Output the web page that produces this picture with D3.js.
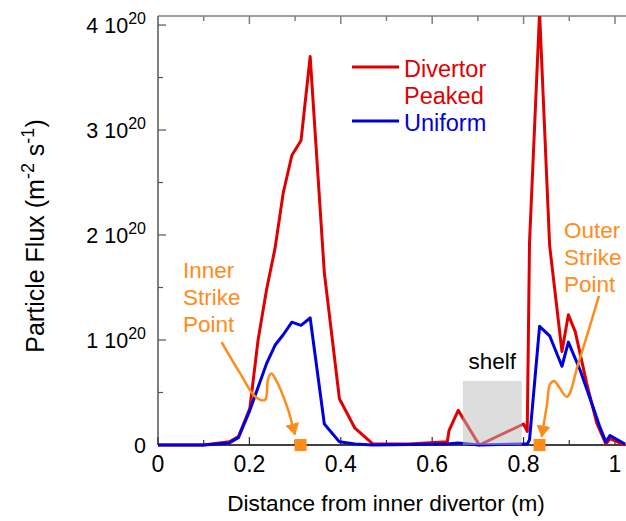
<!DOCTYPE html>
<html>
<head>
<meta charset="utf-8">
<script src="https://cdn.jsdelivr.net/npm/d3@7"></script>
<style>
  html, body { margin: 0; padding: 0; background: #fff; }
  svg { display: block; font-family: "Liberation Sans", Arial, sans-serif; }
</style>
</head>
<body>
<svg id="chart" width="626" height="521"></svg>
<script>
// Particle flux along the divertor surface, two fuelling cases
const peakedX    = [0, 0.1, 0.156, 0.176, 0.201, 0.219, 0.238, 0.256, 0.274, 0.293, 0.313, 0.333, 0.364, 0.397, 0.431, 0.47, 0.55, 0.633, 0.637, 0.657, 0.703, 0.8, 0.808, 0.813, 0.835, 0.857, 0.884, 0.898, 0.913, 0.938, 0.96, 0.98, 0.989, 1.022];
const peakedFlux = [0, 0, 0.03, 0.08, 0.35, 1.0, 1.49, 1.87, 2.40, 2.76, 2.90, 3.70, 1.64, 0.44, 0.16, 0.01, 0.01, 0.03, 0.14, 0.33, 0.0, 0.2, 0.13, 1.93, 4.12, 1.9, 0.89, 1.24, 1.08, 0.59, 0.21, 0.01, 0.06, 0];

const uniformX    = [0, 0.1, 0.156, 0.176, 0.201, 0.219, 0.238, 0.256, 0.274, 0.293, 0.313, 0.333, 0.364, 0.397, 0.431, 0.47, 0.633, 0.657, 0.703, 0.8, 0.808, 0.813, 0.835, 0.857, 0.884, 0.898, 0.924, 0.953, 0.967, 0.98, 0.989, 1.022];
const uniformFlux = [0, 0, 0.02, 0.07, 0.33, 0.55, 0.78, 0.95, 1.05, 1.17, 1.14, 1.21, 0.2, 0.03, 0.01, 0, 0.01, 0.02, 0, 0.01, 0.01, 0.05, 1.13, 1.04, 0.75, 0.98, 0.71, 0.35, 0.17, 0.03, 0.09, 0.01];

// flux values are in units of 1e20 m^-2 s^-1
const yTickValues = [0, 1, 2, 3, 4];
const xTickValues = [0, 0.2, 0.4, 0.6, 0.8, 1];
const xTickLabels = ["0", "0.2", "0.4", "0.6", "0.8", "1"];

const strikePoints = [0.312, 0.835];
const shelfRange = [0.667, 0.796];
const shelfHeight = 0.61;

// annotation arrow paths (m, 1e20 m^-2 s^-1), last point is the arrow tip
const innerArrowX = [0.139, 0.18, 0.213, 0.234, 0.241, 0.248, 0.258, 0.282, 0.2996];
const innerArrowY = [0.98, 0.68, 0.46, 0.43, 0.63, 0.68, 0.62, 0.37, 0.10];
const outerArrowX = [0.965, 0.92, 0.895, 0.878, 0.867, 0.858, 0.851, 0.8396];
const outerArrowY = [1.42, 0.78, 0.46, 0.55, 0.61, 0.58, 0.38, 0.08];

const svg = d3.select("#chart");
const plotLeft = 158, plotTop = 16, plotBottom = 445, plotRight = 626.4;

const x = d3.scaleLinear().domain([0, 1.025]).range([plotLeft, plotRight]);
const y = d3.scaleLinear().domain([0, 4.086]).range([plotBottom, plotTop]);

const RED = "#e00000", BLUE = "#0000dd", ORANGE = "#ff8c1a";

const defs = svg.append("defs");
defs.append("clipPath").attr("id", "plotclip")
  .append("rect").attr("x", plotLeft).attr("y", plotTop)
  .attr("width", plotRight - plotLeft + 2).attr("height", plotBottom - plotTop + 4);

// frame
const frame = svg.append("g");
frame.append("line").attr("x1", plotLeft).attr("x2", 626).attr("y1", plotTop).attr("y2", plotTop)
  .attr("stroke", "#808080").attr("stroke-width", 1.5);
frame.append("line").attr("x1", plotLeft).attr("x2", plotLeft).attr("y1", plotTop).attr("y2", plotBottom)
  .attr("stroke", "#555").attr("stroke-width", 1.5);
frame.append("line").attr("x1", plotLeft).attr("x2", 626).attr("y1", plotBottom).attr("y2", plotBottom)
  .attr("stroke", "#000").attr("stroke-width", 1.5);

// ticks (inward), minor every 0.1 m and every 0.5e20
const xMinor = d3.range(0, 11).map(i => i / 10);
xMinor.forEach(v => {
  const major = Math.round(v * 10) % 2 === 0;
  const len = major ? 8 : 5;
  frame.append("line").attr("x1", x(v)).attr("x2", x(v)).attr("y1", plotTop).attr("y2", plotTop + len)
    .attr("stroke", "#808080").attr("stroke-width", 1.5);
  frame.append("line").attr("x1", x(v)).attr("x2", x(v)).attr("y1", plotBottom).attr("y2", plotBottom - len)
    .attr("stroke", "#333").attr("stroke-width", 1.2);
});
const yMinor = d3.range(0, 9).map(i => i / 2);
yMinor.forEach(v => {
  const len = Number.isInteger(v) ? 8 : 5;
  frame.append("line").attr("x1", plotLeft).attr("x2", plotLeft + len).attr("y1", y(v)).attr("y2", y(v))
    .attr("stroke", "#555").attr("stroke-width", 1.2);
});

// tick labels
svg.append("g").selectAll("text").data(xTickValues).join("text")
  .attr("x", d => x(d)).attr("y", 472)
  .attr("text-anchor", "middle").attr("font-size", 23).attr("fill", "#000")
  .text((d, i) => xTickLabels[i]);

const yl = svg.append("g").selectAll("text").data(yTickValues).join("text")
  .attr("x", 146).attr("y", d => y(d) + 7.5)
  .attr("text-anchor", "end").attr("font-size", 21.5).attr("fill", "#000");
yl.each(function(d) {
  const t = d3.select(this);
  if (d === 0) { t.text("0"); return; }
  t.append("tspan").text(d + " 10");
  t.append("tspan").attr("dy", -9).attr("font-size", 16).text("20");
});

// axis titles
svg.append("text").attr("x", 386).attr("y", 511).attr("text-anchor", "middle")
  .attr("font-size", 22.6).attr("fill", "#000").text("Distance from inner divertor (m)");

const yt = svg.append("text").attr("transform", "translate(44,236) rotate(-90)")
  .attr("text-anchor", "middle").attr("font-size", 25).attr("fill", "#000");
yt.append("tspan").text("Particle Flux (m");
yt.append("tspan").attr("dy", -10).attr("font-size", 18).text("-2");
yt.append("tspan").attr("dy", 10).text(" s");
yt.append("tspan").attr("dy", -10).attr("font-size", 18).text("-1");
yt.append("tspan").attr("dy", 10).text(")");

// data lines
const plot = svg.append("g").attr("clip-path", "url(#plotclip)");
const line = d3.line().x(d => x(d[0])).y(d => y(d[1]));
plot.append("path").datum(peakedX.map((v, i) => [v, peakedFlux[i]]))
  .attr("d", line).attr("fill", "none").attr("stroke", RED).attr("stroke-width", 3)
  .attr("stroke-linejoin", "round");
plot.append("path").datum(uniformX.map((v, i) => [v, uniformFlux[i]]))
  .attr("d", line).attr("fill", "none").attr("stroke", BLUE).attr("stroke-width", 3)
  .attr("stroke-linejoin", "round");

// shelf region
svg.append("rect").attr("x", x(shelfRange[0])).attr("y", y(shelfHeight))
  .attr("width", x(shelfRange[1]) - x(shelfRange[0])).attr("height", y(0) - y(shelfHeight))
  .attr("fill", "#bbbbbb").attr("fill-opacity", 0.5);
svg.append("text").attr("x", x((shelfRange[0] + shelfRange[1]) / 2)).attr("y", 369)
  .attr("text-anchor", "middle").attr("font-size", 22.5).attr("fill", "#000").text("shelf");

// legend
const legend = svg.append("g");
legend.append("line").attr("x1", 352).attr("x2", 399).attr("y1", 67).attr("y2", 67)
  .attr("stroke", RED).attr("stroke-width", 3);
legend.append("text").attr("x", 404).attr("y", 77).attr("font-size", 23.5).attr("fill", RED).text("Divertor");
legend.append("text").attr("x", 404).attr("y", 104).attr("font-size", 23.5).attr("fill", RED).text("Peaked");
legend.append("line").attr("x1", 352).attr("x2", 399).attr("y1", 121).attr("y2", 121)
  .attr("stroke", BLUE).attr("stroke-width", 3);
legend.append("text").attr("x", 404).attr("y", 131).attr("font-size", 23.5).attr("fill", BLUE).text("Uniform");

// strike point annotations
defs.append("marker").attr("id", "arrowhead")
  .attr("viewBox", "0 0 12 14").attr("refX", 11).attr("refY", 7)
  .attr("markerWidth", 12).attr("markerHeight", 14).attr("markerUnits", "userSpaceOnUse")
  .attr("orient", "auto")
  .append("path").attr("d", "M0,0 L12,7 L0,14 Z").attr("fill", ORANGE);

const curve = d3.line().x(d => x(d[0])).y(d => y(d[1])).curve(d3.curveCatmullRom);
[[innerArrowX, innerArrowY], [outerArrowX, outerArrowY]].forEach(([ax, ay]) => {
  svg.append("path").datum(ax.map((v, i) => [v, ay[i]]))
    .attr("d", curve).attr("fill", "none").attr("stroke", ORANGE).attr("stroke-width", 2.5)
    .attr("marker-end", "url(#arrowhead)");
});

const ann = svg.append("g").attr("font-size", 22.5).attr("fill", ORANGE);
["Inner", "Strike", "Point"].forEach((s, i) =>
  ann.append("text").attr("x", 183).attr("y", 278 + i * 27).text(s));
["Outer", "Strike", "Point"].forEach((s, i) =>
  ann.append("text").attr("x", 564).attr("y", 238 + i * 27).text(s));

svg.append("g").selectAll("rect").data(strikePoints).join("rect")
  .attr("x", d => x(d) - 6).attr("y", y(0) - 6).attr("width", 12).attr("height", 12)
  .attr("fill", ORANGE);
</script>
</body>
</html>
